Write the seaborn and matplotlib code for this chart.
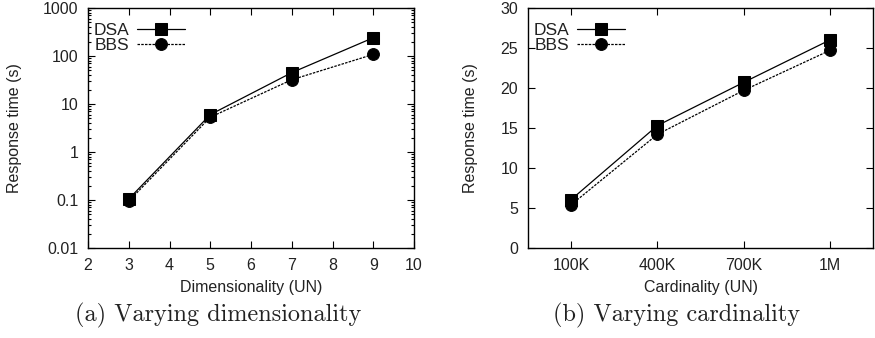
import matplotlib
matplotlib.use("Agg")
import matplotlib.pyplot as plt
import seaborn as sns
import pandas as pd
from matplotlib.ticker import LogLocator, FixedLocator, NullFormatter, FuncFormatter

# Response time vs dimensionality (log scale)
dims = [3, 5, 7, 9]
dsa_dim = [0.105, 6.0, 45.0, 240.0]
bbs_dim = [0.095, 5.3, 32.0, 108.0]

# Response time vs cardinality
card_labels = ["100K", "400K", "700K", "1M"]
dsa_card = [6.05, 15.3, 20.7, 26.0]
bbs_card = [5.4, 14.2, 19.7, 24.7]

sns.set_theme(style="ticks")
plt.rcParams["font.family"] = ["Liberation Sans", "DejaVu Sans"]

fig = plt.figure(figsize=(8.75, 3.38), dpi=100)
ax1 = fig.add_axes([88 / 875, 90 / 338, 326 / 875, 240 / 338])
ax2 = fig.add_axes([528 / 875, 90 / 338, 345 / 875, 240 / 338])

df_dim = pd.DataFrame({"x": dims + dims,
                       "y": dsa_dim + bbs_dim,
                       "method": ["DSA"] * 4 + ["BBS"] * 4})
card_pos = list(range(1, len(card_labels) + 1))
df_card = pd.DataFrame({"x": card_pos + card_pos,
                        "y": dsa_card + bbs_card,
                        "method": ["DSA"] * 4 + ["BBS"] * 4})

styles = {"DSA": dict(marker="s", ls="-", ms=8.5),
          "BBS": dict(marker="o", ls=(0, (2, 1)), ms=8.5)}


def draw(ax, df, width_px):
    for name in ["DSA", "BBS"]:
        st = styles[name]
        sub = df[df["method"] == name]
        sns.lineplot(data=sub, x="x", y="y", ax=ax, color="black", lw=0.9,
                     marker=st["marker"], markersize=st["ms"], linestyle=st["ls"],
                     markeredgecolor="black", markerfacecolor="black",
                     label=name)
    leg = ax.legend(loc="upper left", frameon=False, markerfirst=False,
                    handlelength=2.8, fontsize=12.5, borderpad=0,
                    borderaxespad=0, bbox_to_anchor=(6 / width_px, 1 - 15 / 240),
                    labelspacing=0.0, handletextpad=0.4)
    for txt in leg.get_texts():
        txt.set_color("#222222")


draw(ax1, df_dim, 326)
draw(ax2, df_card, 345)

# Left panel
ax1.set_yscale("log")
ax1.set_xlim(2, 10)
ax1.set_ylim(0.01, 1000)
ax1.set_xticks(range(2, 11))
ax1.yaxis.set_major_locator(FixedLocator([0.01, 0.1, 1, 10, 100, 1000]))
ax1.yaxis.set_major_formatter(FuncFormatter(lambda v, p: f"{v:g}"))
ax1.yaxis.set_minor_locator(LogLocator(base=10, subs=range(2, 10), numticks=20))
ax1.yaxis.set_minor_formatter(NullFormatter())
ax1.set_xlabel("Dimensionality (UN)", fontsize=11.5, labelpad=5, color="#222222")
ax1.set_ylabel("Response time (s)", fontsize=11.5, labelpad=15, color="#222222")

# Right panel
ax2.set_xlim(0.5, 4.5)
ax2.set_ylim(0, 30)
ax2.set_xticks(card_pos)
ax2.set_xticklabels(card_labels)
ax2.set_yticks(range(0, 31, 5))
ax2.set_xlabel("Cardinality (UN)", fontsize=11.5, labelpad=5, color="#222222")
ax2.set_ylabel("Response time (s)", fontsize=11.5, labelpad=16, color="#222222")

for ax in (ax1, ax2):
    for s in ax.spines.values():
        s.set_visible(True)
        s.set_linewidth(1.0)
        s.set_color("black")
    ax.tick_params(which="both", direction="in", top=True, right=True,
                   colors="black", labelcolor="#222222", labelsize=11.5,
                   width=0.8)
    ax.tick_params(which="major", length=5, pad=7)
    ax.tick_params(which="minor", length=2.5)

fig.text(218 / 875, 1 - 315 / 338, "(a) Varying dimensionality",
         ha="center", va="center", fontsize=17.5, family="cmr10", color="#222222")
fig.text(677 / 875, 1 - 315 / 338, "(b) Varying cardinality",
         ha="center", va="center", fontsize=17.5, family="cmr10", color="#222222")

fig.savefig("out.png", dpi=100)
